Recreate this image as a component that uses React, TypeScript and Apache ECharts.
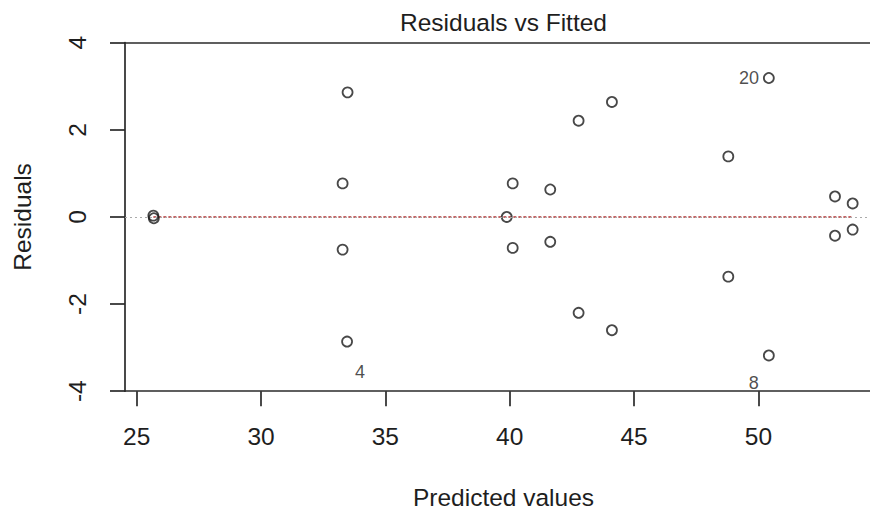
import React, { useEffect, useRef } from "react";
import * as echarts from "echarts";

const fitted = [
  25.67, 25.69, 33.48, 33.28, 33.28, 33.46, 39.88, 40.12, 40.12, 41.63, 41.63,
  42.77, 42.77, 44.11, 44.11, 48.79, 48.79, 50.42, 50.42, 53.08, 53.08, 53.79, 53.79,
];
const residuals = [
  0.03, -0.03, 2.86, 0.77, -0.75, -2.86, 0.0, 0.77, -0.71, 0.63, -0.57,
  2.21, -2.2, 2.64, -2.6, 1.39, -1.37, 3.19, -3.18, 0.47, -0.43, 0.31, -0.29,
];
const idLabels = ["20", "4", "8"];
const idIndex = [17, 5, 18];

const smoothFitted = [25.67, 33.4, 40.0, 44.11, 50.42, 53.79];
const smoothResid = [0, 0, 0, 0, 0, 0];

const xTicks = [25, 30, 35, 40, 45, 50];
const yTicks = [-4, -2, 0, 2, 4];
const xMin = 24.53;
const xMax = 54.97;
const yMin = -4;
const yMax = 4;

const FONT = "'Liberation Sans', Arial, Helvetica, sans-serif";
const TXT = "#1e1e1e";
const AX = "#2a2a2a";
const FS = 24.5;

export default function App() {
  const ref = useRef<HTMLDivElement>(null);
  useEffect(() => {
    if (!ref.current) return;
    const chart = echarts.init(ref.current, undefined, { renderer: "svg" });

    const labelStyles: Record<string, any> = {
      "20": { position: "left", distance: 4 },
      "4": { position: "inside", offset: [13, 30] },
      "8": { position: "inside", offset: [-15, 28] },
    };

    const pts = fitted.map((x, i) => {
      const k = idIndex.indexOf(i);
      if (k >= 0) {
        const lab = idLabels[k];
        return {
          value: [x, residuals[i]],
          label: {
            show: true,
            formatter: lab,
            fontSize: 18,
            color: TXT,
            fontFamily: FONT,
            ...labelStyles[lab],
          },
        };
      }
      return { value: [x, residuals[i]] };
    });

    chart.setOption({
      animation: false,
      backgroundColor: "#fff",
      title: {
        text: "Residuals vs Fitted",
        left: 503.5,
        top: 9.5,
        textAlign: "center",
        padding: 0,
        textStyle: { fontSize: FS, fontWeight: "normal", color: TXT, fontFamily: FONT },
      },
      grid: {
        left: 125,
        top: 42.7,
        width: 757,
        height: 348.5,
        containLabel: false,
        outerBoundsMode: "none",
      },
      xAxis: [
        {
          type: "value",
          min: xMin,
          max: xMax,
          position: "bottom",
          axisLine: { show: true, onZero: false, lineStyle: { color: AX, width: 1.7 } },
          axisTick: { show: true, length: 15, customValues: xTicks, lineStyle: { color: AX, width: 1.7 } },
          axisLabel: { customValues: xTicks, fontSize: FS, color: TXT, fontFamily: FONT, margin: 33 },
          splitLine: { show: false },
          name: "Predicted values",
          nameLocation: "middle",
          nameGap: 94,
          nameTextStyle: { fontSize: FS, color: TXT, fontFamily: FONT },
        },
        {
          type: "value",
          min: xMin,
          max: xMax,
          position: "top",
          axisLine: { show: true, onZero: false, lineStyle: { color: AX, width: 1.7 } },
          axisTick: { show: false },
          axisLabel: { show: false },
          splitLine: { show: false },
        },
      ],
      yAxis: {
        type: "value",
        min: yMin,
        max: yMax,
        position: "left",
        axisLine: { show: true, onZero: false, lineStyle: { color: AX, width: 1.7 } },
        axisTick: { show: true, length: 15, customValues: yTicks, lineStyle: { color: AX, width: 1.7 } },
        axisLabel: { customValues: yTicks, rotate: 90, fontSize: FS, color: TXT, fontFamily: FONT, margin: 35 },
        splitLine: { show: false },
        name: "Residuals",
        nameLocation: "middle",
        nameGap: 90,
        nameRotate: 90,
        nameTextStyle: { fontSize: FS, color: TXT, fontFamily: FONT },
      },
      series: [
        {
          type: "line",
          xAxisIndex: 0,
          data: smoothFitted.map((x, i) => [x, smoothResid[i]]),
          showSymbol: false,
          symbol: "none",
          lineStyle: { color: "#b03535", width: 1.4, type: [3, 2] },
          markLine: {
            silent: true,
            symbol: ["none", "none"],
            label: { show: false },
            lineStyle: { color: "#aaaaaa", width: 1.2, type: [2, 3] },
            data: [{ yAxis: 0 }],
          },
          z: 1,
        },
        {
          type: "scatter",
          xAxisIndex: 0,
          data: pts,
          symbol: "circle",
          symbolSize: 10,
          itemStyle: { color: "rgba(255,255,255,0)", borderColor: "#1a1a1a", borderWidth: 1.8 },
          z: 3,
        },
      ],
    });
    return () => chart.dispose();
  }, []);

  return (
    <div
      style={{
        position: "absolute",
        left: 0,
        top: 0,
        width: 870,
        height: 516,
        overflow: "hidden",
        background: "#fff",
      }}
    >
      <div ref={ref} style={{ width: 900, height: 516 }} />
    </div>
  );
}
